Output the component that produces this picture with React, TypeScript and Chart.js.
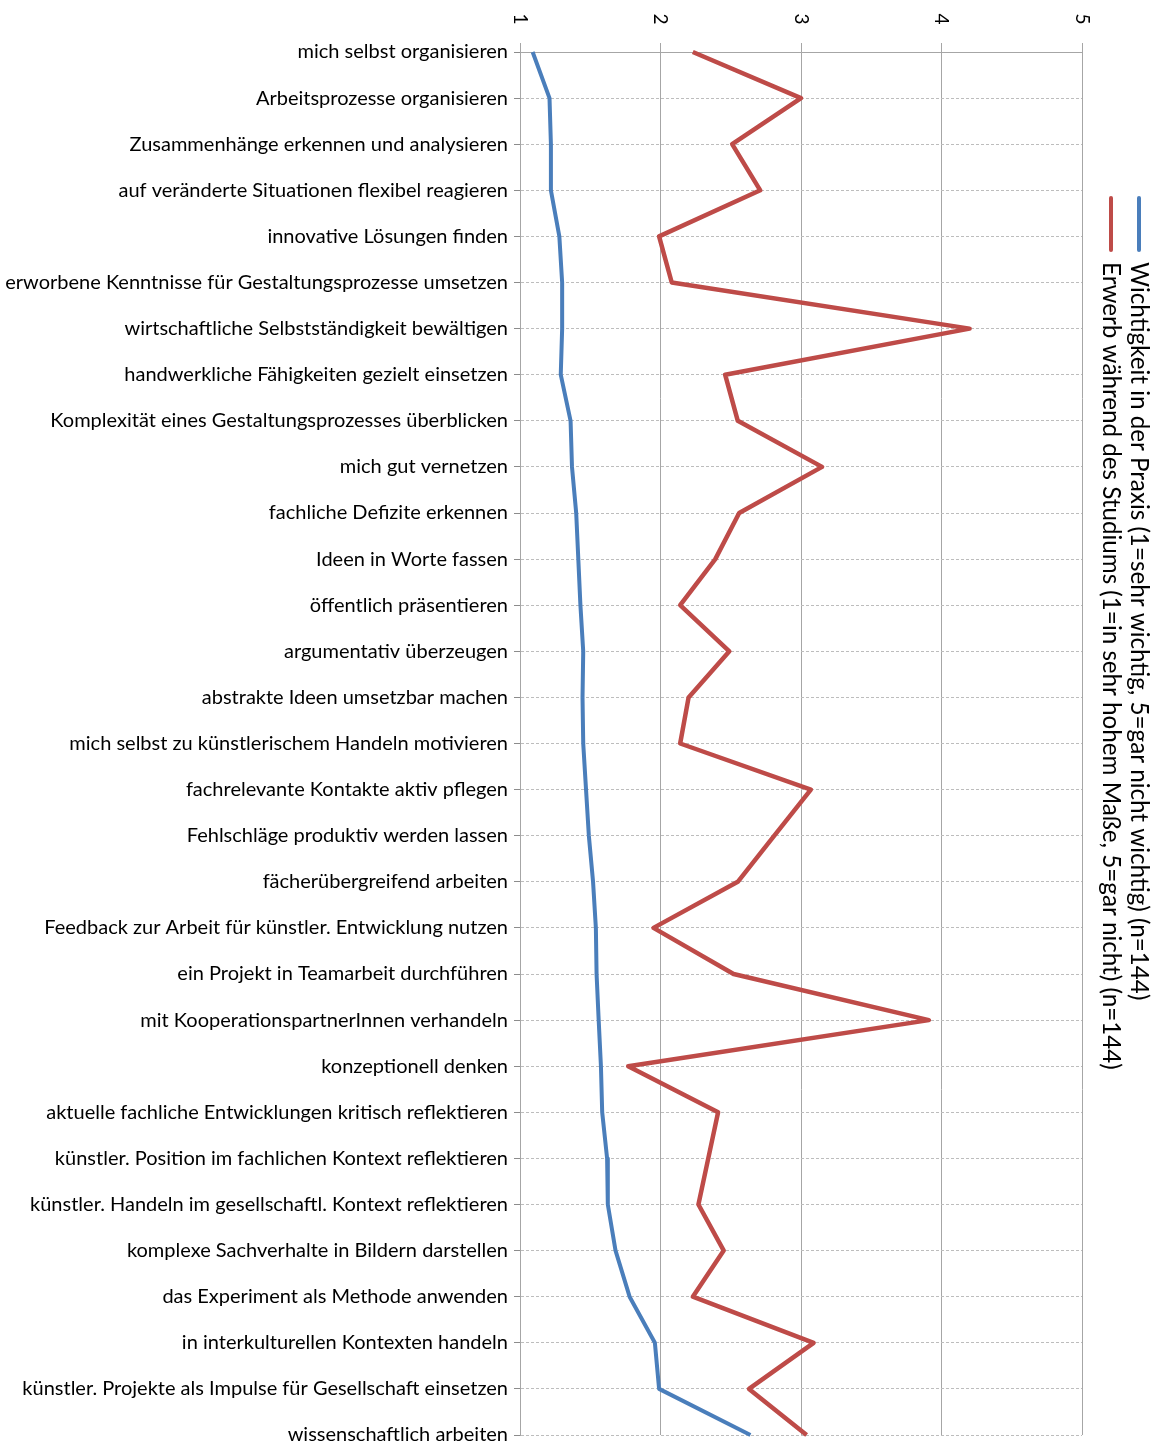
import React, { useEffect, useRef } from "react";
import { Chart, registerables } from "chart.js";

Chart.register(...registerables);

const categories = [
  "mich selbst organisieren",
  "Arbeitsprozesse organisieren",
  "Zusammenhänge erkennen und analysieren",
  "auf veränderte Situationen flexibel reagieren",
  "innovative Lösungen finden",
  "erworbene Kenntnisse für Gestaltungsprozesse umsetzen",
  "wirtschaftliche Selbstständigkeit bewältigen",
  "handwerkliche Fähigkeiten gezielt einsetzen",
  "Komplexität eines Gestaltungsprozesses überblicken",
  "mich gut vernetzen",
  "fachliche Defizite erkennen",
  "Ideen in Worte fassen",
  "öffentlich präsentieren",
  "argumentativ überzeugen",
  "abstrakte Ideen umsetzbar machen",
  "mich selbst zu künstlerischem Handeln motivieren",
  "fachrelevante Kontakte aktiv pflegen",
  "Fehlschläge produktiv werden lassen",
  "fächerübergreifend arbeiten",
  "Feedback zur Arbeit für künstler. Entwicklung nutzen",
  "ein Projekt in Teamarbeit durchführen",
  "mit KooperationspartnerInnen verhandeln",
  "konzeptionell denken",
  "aktuelle fachliche Entwicklungen kritisch reflektieren",
  "künstler. Position im fachlichen Kontext reflektieren",
  "künstler. Handeln im gesellschaftl. Kontext reflektieren",
  "komplexe Sachverhalte in Bildern darstellen",
  "das Experiment als Methode anwenden",
  "in interkulturellen Kontexten handeln",
  "künstler. Projekte als Impulse für Gesellschaft einsetzen",
  "wissenschaftlich arbeiten",
];

const wichtigkeitPraxis = [
  1.09, 1.21, 1.22, 1.22, 1.28, 1.3, 1.3, 1.29, 1.36, 1.37, 1.4, 1.415, 1.43,
  1.45, 1.445, 1.45, 1.47, 1.49, 1.52, 1.54, 1.545, 1.56, 1.576, 1.585, 1.62,
  1.625, 1.68, 1.78, 1.96, 1.99, 2.64,
];

const erwerbStudium = [
  2.23, 3.0, 2.51, 2.71, 1.99, 2.08, 4.2, 2.46, 2.55, 3.15, 2.56, 2.39, 2.14,
  2.49, 2.2, 2.14, 3.07, 2.81, 2.55, 1.95, 2.52, 3.91, 1.77, 2.41, 2.34, 2.27,
  2.45, 2.23, 3.09, 2.63, 3.04,
];

const valueTicks = [1, 2, 3, 4, 5];

const seriesLabels = [
  "Wichtigkeit in der Praxis (1=sehr wichtig, 5=gar nicht wichtig) (n=144)",
  "Erwerb während des Studiums (1=in sehr hohem Maße, 5=gar nicht) (n=144)",
];

const FONT = "Lato, 'Open Sans', sans-serif";

const rotatedTextPlugin = {
  id: "rotatedText",
  afterDraw(chart: any) {
    const ctx = chart.ctx;
    const xs = chart.scales.x;
    ctx.save();
    ctx.fillStyle = "#000";
    ctx.textAlign = "center";
    ctx.textBaseline = "middle";
    ctx.font = `19px ${FONT}`;
    xs.ticks.forEach((t: any) => {
      const px = xs.getPixelForValue(t.value);
      ctx.save();
      ctx.translate(px, 19);
      ctx.rotate(Math.PI / 2);
      ctx.fillText(String(t.value), 0, 0);
      ctx.restore();
    });

    // legend, rotated clockwise
    ctx.font = `24.2px ${FONT}`;
    chart.data.datasets.forEach((ds: any, i: number) => {
      const x = chart.width - 20 - i * 28;
      ctx.save();
      ctx.strokeStyle = ds.borderColor;
      ctx.lineWidth = 4;
      ctx.lineCap = "round";
      ctx.beginPath();
      ctx.moveTo(x, 198);
      ctx.lineTo(x, 250);
      ctx.stroke();
      ctx.translate(x, 262);
      ctx.rotate(Math.PI / 2);
      ctx.textAlign = "left";
      ctx.textBaseline = "middle";
      ctx.fillStyle = "#000";
      ctx.fillText(ds.label, 0, 0);
      ctx.restore();
    });
    ctx.restore();
  },
};

export default function App() {
  const canvasRef = useRef<HTMLCanvasElement | null>(null);

  useEffect(() => {
    document.body.style.margin = "0";
    document.body.style.overflow = "hidden";
    const canvas = canvasRef.current;
    if (!canvas) return;
    const chart = new Chart(canvas, {
      type: "line",
      data: {
        labels: categories,
        datasets: [
          {
            label: seriesLabels[0],
            data: wichtigkeitPraxis,
            borderColor: "#4a7ebb",
            backgroundColor: "#4a7ebb",
            borderWidth: 4,
            pointRadius: 0,
          },
          {
            label: seriesLabels[1],
            data: erwerbStudium,
            borderColor: "#be4b48",
            backgroundColor: "#be4b48",
            borderWidth: 4.5,
            pointRadius: 0,
          },
        ],
      },
      options: {
        indexAxis: "y",
        animation: false,
        responsive: true,
        maintainAspectRatio: false,
        layout: { padding: { left: 0, top: 0, right: 77, bottom: 8 } },
        plugins: {
          legend: { display: false },
          tooltip: { enabled: false },
        },
        elements: {
          line: { tension: 0, borderJoinStyle: "round" },
        },
        scales: {
          x: {
            type: "linear",
            position: "top",
            min: valueTicks[0],
            max: valueTicks[valueTicks.length - 1],
            afterBuildTicks(scale: any) {
              scale.ticks = valueTicks.map((v) => ({ value: v }));
            },
            ticks: { display: false },
            grid: { color: "#a6a6a6", lineWidth: 1, tickLength: 9, drawTicks: true },
            border: { display: true, color: "#a6a6a6" },
            afterFit(scale: any) {
              scale.height = 52;
              scale.paddingLeft = 0;
              scale.paddingRight = 0;
            },
          },
          y: {
            type: "category",
            offset: false,
            ticks: {
              autoSkip: false,
              color: "#000",
              padding: 6,
              font: { family: FONT, size: 20 },
            },
            grid: {
              color: "#bdbdbd",
              lineWidth: 1,
              tickLength: 6,
              tickColor: "#8c8c8c",
              drawTicks: true,
              offset: false,
            },
            border: { display: true, color: "#a6a6a6", dash: [3, 2] },
            afterFit(scale: any) {
              scale.width = 520;
              scale.paddingTop = 0;
              scale.paddingBottom = 0;
            },
          },
        },
      } as any,
      plugins: [rotatedTextPlugin],
    });
    return () => chart.destroy();
  }, []);

  return (
    <div style={{ position: "relative", width: "1159px", height: "1443px" }}>
      <canvas ref={canvasRef} />
    </div>
  );
}
